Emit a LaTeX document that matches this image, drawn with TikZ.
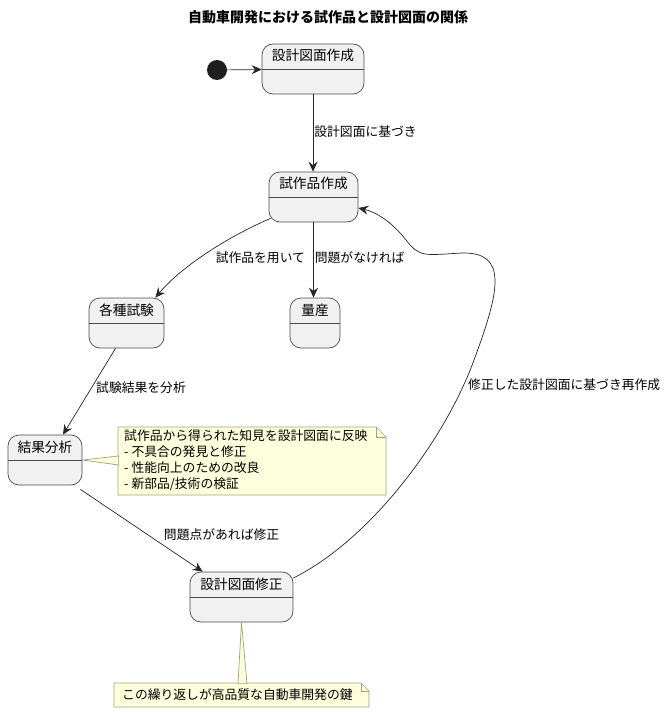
\documentclass[tikz,border=0pt]{standalone}
\usepackage{fontspec}
\setmainfont{Noto Sans CJK JP}
\usetikzlibrary{arrows.meta}
\definecolor{statefill}{HTML}{F1F1F1}
\definecolor{stateline}{HTML}{4A4A4A}
\definecolor{notefill}{HTML}{FEFFDD}
\definecolor{noteline}{HTML}{A3A37A}

\begin{document}
\begin{tikzpicture}[x=1pt,y=-1pt,
  state/.style={draw=stateline,fill=statefill,rounded corners=11pt,line width=0.7pt,
    inner sep=0pt,text height=17pt,text depth=33pt,font=\fontsize{13.7}{16}\selectfont},
  trans/.style={-{Stealth[length=10pt,width=9pt,inset=3.5pt]},line width=0.7pt,draw=black!85},
  lab/.style={font=\fontsize{12.8}{15}\selectfont,inner sep=1pt},
  note/.style={inner sep=0pt,font=\fontsize{12.8}{16}\selectfont},
  notebox/.style={fill=notefill,draw=noteline,line width=0.7pt,line join=round}]
\useasboundingbox (0,0) rectangle (668,714);

\node (title) at (328,17) {\fontsize{14}{16}\selectfont\bfseries 自動車開発における試作品と設計図面の関係};

\node (start) [circle,fill=black!88,minimum size=20pt,inner sep=0pt] at (217,70) {};
\node (design) [state,minimum width=102pt] at (313,69) {設計図面作成};
\node (proto) [state,minimum width=89pt] at (313.5,197) {試作品作成};
\node (mass) [state,minimum width=50pt] at (315,323) {量産};
\node (test) [state,minimum width=75pt] at (126.5,323) {各種試験};
\node (analysis) [state,minimum width=74pt] at (45,460) {結果分析};
\node (revise) [state,minimum width=103pt] at (241.5,597) {設計図面修正};

% compartment lines
\foreach \s in {design,proto,mass,test,analysis,revise}
  \draw [stateline,line width=0.7pt] (\s.west) -- (\s.east);

% notes
\draw [notebox] (118,427) -- (376,427) -- (386,437) -- (386,495) -- (118,495) -- cycle;
\draw [noteline,line width=0.7pt] (376,427) -- (376,437) -- (386,437);
\draw [notebox] (114,683) -- (361,683) -- (369,691) -- (369,707) -- (114,707) -- cycle;
\draw [noteline,line width=0.7pt] (361,683) -- (361,691) -- (369,691);
\node (note1) [note,align=left,anchor=north west] at (124,430)
  {試作品から得られた知見を設計図面に反映\\- 不具合の発見と修正\\- 性能向上のための改良\\- 新部品/技術の検証};
\node (note2) [note,anchor=west] at (122,695) {この繰り返しが高品質な自動車開発の鍵};

% note anchors
\draw [notebox] (analysis.east) -- (118.6,456) -- (118.6,465) -- cycle;
\draw [notebox] (revise.south) -- (238,683.6) -- (247,683.6) -- cycle;

% transitions
\draw [trans] (start) -- (design);
\draw [trans] (design.south) -- (design.south |- proto.north)
  node [lab,anchor=west,pos=0.48] {設計図面に基づき};
\draw [trans] (proto.south) -- (proto.south |- mass.north)
  node [lab,anchor=west,pos=0.47] {問題がなければ};
\draw [trans] ([xshift=2pt,yshift=4pt]proto.south west) .. controls (225,238) and (180,268) .. ([xshift=-9pt]test.north east)
  node [lab,pos=0.4,anchor=north west,xshift=-3pt,yshift=-4pt] {試作品を用いて};
\draw [trans] ([xshift=-11pt]test.south) -- ([xshift=18pt]analysis.north)
  node [lab,anchor=west,pos=0.45,xshift=3pt] {試験結果を分析};
\draw [trans] ([xshift=-2pt,yshift=-4pt]analysis.south east) -- ([xshift=13pt]revise.north west)
  node [lab,anchor=west,pos=0.55,xshift=15pt] {問題点があれば修正};
\draw [trans] ([yshift=19pt]revise.east) .. controls (370,540) and (445,440) .. (474,360)
  .. controls (500,290) and (508,252) .. (462,253)
  .. controls (425,255) and (420,258) .. (406,240)
  .. controls (392,222) and (376,212) .. ([yshift=-11pt]proto.east);
\node (relab) [lab,anchor=west] at (467,385) {修正した設計図面に基づき再作成};
\end{tikzpicture}
\end{document}
